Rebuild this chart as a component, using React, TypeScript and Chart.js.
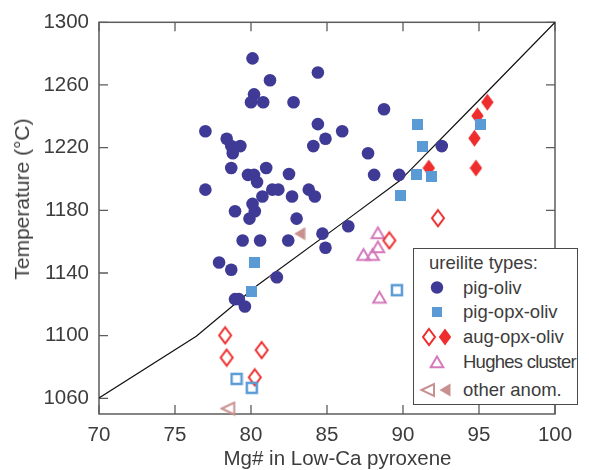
import React, { useEffect, useRef } from 'react';
import { Chart, registerables } from 'chart.js';

Chart.register(...registerables);

// ---- axis ticks ----
const xTicks = [70, 75, 80, 85, 90, 95, 100];
const yTicks = [1060, 1100, 1140, 1180, 1220, 1260, 1300];

// ---- series: pig-oliv (filled circles) ----
const pigOlivX = [80.1, 84.4, 81.25, 80.2, 80.0, 80.8, 82.8, 88.75, 84.4, 77.0, 86.0, 78.4, 84.9, 78.7, 79.3, 84.1, 92.55, 78.8, 87.7, 78.7, 81.0, 79.8, 80.2, 82.5, 88.1, 89.75, 80.4, 77.0, 81.4, 81.8, 83.8, 80.75, 82.7, 84.2, 80.1, 80.25, 78.95, 79.9, 83.0, 86.4, 84.7, 79.45, 80.6, 82.45, 84.9, 77.9, 78.7, 81.7, 78.95, 79.2, 79.6];
const pigOlivY = [1277, 1268, 1263, 1254, 1249, 1249, 1249, 1244.5, 1235, 1230.5, 1230.5, 1225.7, 1225.7, 1221, 1221, 1221, 1221, 1216.4, 1216.4, 1207, 1207, 1202.6, 1202.6, 1203.2, 1202.6, 1202.6, 1198, 1193.2, 1193.2, 1193.2, 1193.2, 1188.8, 1188.8, 1188.8, 1184.1, 1179.4, 1179.4, 1174.7, 1174.7, 1169.8, 1165.1, 1160.7, 1160.7, 1160.7, 1156.1, 1146.7, 1142.1, 1137.3, 1123.3, 1123.3, 1118.6];

// ---- pig-opx-oliv (squares) ----
const pigOpxFilledX = [90.95, 91.3, 90.9, 91.9, 89.85, 95.1, 80.2, 80.0];
const pigOpxFilledY = [1235, 1221, 1202.6, 1201.8, 1189.2, 1234.5, 1146.7, 1128];
const pigOpxOpenX = [79.05, 80.05, 89.6];
const pigOpxOpenY = [1072.4, 1066.7, 1129];

// ---- aug-opx-oliv (diamonds) ----
const augFilledX = [95.55, 94.9, 94.7, 94.8, 91.7];
const augFilledY = [1249, 1240.3, 1226, 1207, 1207];
const augOpenX = [92.3, 89.1, 78.3, 78.4, 80.7, 80.25];
const augOpenY = [1175, 1160.8, 1100.2, 1086, 1090.8, 1073.4];

// ---- Hughes cluster (open up-triangles) ----
const hughesX = [88.35, 88.35, 87.4, 88.0, 88.45];
const hughesY = [1165.6, 1156.6, 1151.7, 1151.7, 1124.4];

// ---- other anom. (left triangles) ----
const otherFilledX = [83.2, 81.5];
const otherFilledY = [1165.1, 1137.3];
const otherOpenX = [78.5];
const otherOpenY = [1053.5];

// ---- reference curve ----
const curveX = [70, 76.4, 80.4, 86.3, 89.8, 94.9, 100];
const curveY = [1060.2, 1099.6, 1132, 1173.9, 1199, 1249.3, 1300];

// ---- labels ----
const legendTitle = 'ureilite types:';
const legendLabels = ['pig-oliv', 'pig-opx-oliv', 'aug-opx-oliv', 'Hughes cluster', 'other anom.'];
const xTitle = 'Mg# in Low-Ca pyroxene';
const yTitle = 'Temperature (°C)';

const C_PIG = '#3e3a96';
const C_OPX = '#5b9bd5';
const C_AUG = '#ee2e2e';
const C_HUG = '#d47abb';
const C_OTH = '#c99090';
const TXT = '#3c3c3c';
const FONT = 'Liberation Sans, Arial, sans-serif';

const zip = (xs: number[], ys: number[]) => xs.map((x, i) => ({ x, y: ys[i] }));

function marker(w: number, h: number, draw: (ctx: CanvasRenderingContext2D, cx: number, cy: number) => void) {
  const c = document.createElement('canvas');
  c.width = Math.ceil(w);
  c.height = Math.ceil(h);
  const ctx = c.getContext('2d')!;
  draw(ctx, c.width / 2, c.height / 2);
  return c;
}

const framePlugin = {
  id: 'frame',
  beforeDatasetsDraw(chart: any) {
    const { ctx, chartArea: a, scales } = chart;
    ctx.save();
    ctx.strokeStyle = '#5c5c5c';
    ctx.lineWidth = 1.5;
    ctx.strokeRect(a.left, a.top, a.right - a.left, a.bottom - a.top);
    ctx.lineWidth = 1.3;
    const L = 9;
    ctx.beginPath();
    xTicks.forEach((v) => {
      const px = scales.x.getPixelForValue(v);
      ctx.moveTo(px, a.bottom);
      ctx.lineTo(px, a.bottom - L);
      ctx.moveTo(px, a.top);
      ctx.lineTo(px, a.top + L);
    });
    yTicks.forEach((v) => {
      const py = scales.y.getPixelForValue(v);
      ctx.moveTo(a.left, py);
      ctx.lineTo(a.left + L, py);
      ctx.moveTo(a.right, py);
      ctx.lineTo(a.right - L, py);
    });
    ctx.stroke();
    ctx.restore();
  },
};

export default function App() {
  const ref = useRef<HTMLCanvasElement>(null);

  useEffect(() => {
    const sqFilled = marker(11, 11, (c, x, y) => {
      c.fillStyle = C_OPX;
      c.fillRect(x - 5.5, y - 5.5, 11, 11);
    });
    const sqOpen = marker(14, 14, (c, x, y) => {
      c.strokeStyle = C_OPX;
      c.lineWidth = 2.5;
      c.strokeRect(x - 5, y - 5, 10, 10);
    });
    const diaFilled = marker(13, 18, (c, x, y) => {
      c.fillStyle = C_AUG;
      c.beginPath();
      c.moveTo(x, y - 8.5);
      c.lineTo(x + 6.2, y);
      c.lineTo(x, y + 8.5);
      c.lineTo(x - 6.2, y);
      c.closePath();
      c.fill();
    });
    const diaOpen = marker(16, 20, (c, x, y) => {
      c.strokeStyle = C_AUG;
      c.lineWidth = 2;
      c.beginPath();
      c.moveTo(x, y - 8);
      c.lineTo(x + 6, y);
      c.lineTo(x, y + 8);
      c.lineTo(x - 6, y);
      c.closePath();
      c.stroke();
    });
    const triUpOpen = marker(17, 16, (c, x, y) => {
      c.strokeStyle = C_HUG;
      c.lineWidth = 2;
      c.lineJoin = 'miter';
      c.beginPath();
      c.moveTo(x, y - 5.5);
      c.lineTo(x + 6.3, y + 5.2);
      c.lineTo(x - 6.3, y + 5.2);
      c.closePath();
      c.stroke();
    });
    const triLeftFilled = marker(12, 14, (c, x, y) => {
      c.fillStyle = C_OTH;
      c.beginPath();
      c.moveTo(x - 5.5, y);
      c.lineTo(x + 5.5, y - 6.5);
      c.lineTo(x + 5.5, y + 6.5);
      c.closePath();
      c.fill();
    });
    const triLeftOpen = marker(17, 16, (c, x, y) => {
      c.strokeStyle = C_OTH;
      c.lineWidth = 2;
      c.beginPath();
      c.moveTo(x - 6.5, y);
      c.lineTo(x + 6, y - 6);
      c.lineTo(x + 6, y + 6);
      c.closePath();
      c.stroke();
    });

    const pt = (style: any) => ({
      type: 'scatter' as const,
      pointStyle: style,
      pointRadius: 7,
      pointHoverRadius: 7,
      clip: false as any,
    });

    const tickFont = { family: FONT, size: 20.5 };

    const chart = new Chart(ref.current!, {
      type: 'scatter',
      data: {
        datasets: [
          {
            label: 'pig-oliv',
            data: zip(pigOlivX, pigOlivY),
            pointStyle: 'circle',
            pointRadius: 6.3,
            pointHoverRadius: 6.3,
            backgroundColor: C_PIG,
            borderWidth: 0,
            clip: false as any,
          },
          { label: 'pig-opx-oliv', data: zip(pigOpxFilledX, pigOpxFilledY), ...pt(sqFilled) },
          { label: 'pig-opx-oliv (open)', data: zip(pigOpxOpenX, pigOpxOpenY), ...pt(sqOpen) },
          { label: 'aug-opx-oliv', data: zip(augFilledX, augFilledY), ...pt(diaFilled) },
          { label: 'aug-opx-oliv (open)', data: zip(augOpenX, augOpenY), ...pt(diaOpen) },
          { label: 'Hughes cluster', data: zip(hughesX, hughesY), ...pt(triUpOpen) },
          { label: 'other anom.', data: zip(otherFilledX, otherFilledY), ...pt(triLeftFilled) },
          { label: 'other anom. (open)', data: zip(otherOpenX, otherOpenY), ...pt(triLeftOpen) },
          {
            label: 'curve',
            type: 'line' as any,
            data: zip(curveX, curveY),
            showLine: true,
            borderColor: '#111111',
            borderWidth: 1.2,
            pointRadius: 0,
            pointHoverRadius: 0,
            tension: 0,
            fill: false,
          } as any,
        ],
      },
      options: {
        animation: false,
        responsive: false,
        maintainAspectRatio: false,
        events: [],
        layout: { padding: { top: 16, right: 34, left: 0, bottom: 0 } },
        plugins: {
          legend: { display: false },
          tooltip: { enabled: false },
        },
        scales: {
          x: {
            type: 'linear',
            position: 'bottom',
            min: 70,
            max: 100,
            afterBuildTicks: (s: any) => {
              s.ticks = xTicks.map((v) => ({ value: v }));
            },
            afterFit: (s: any) => {
              s.height = 56;
            },
            ticks: {
              font: tickFont,
              color: TXT,
              padding: 9,
              maxRotation: 0,
              autoSkip: false,
              callback: (v: any) => String(v),
            },
            grid: { display: false, drawTicks: false },
            border: { display: false },
            title: { display: false, text: xTitle },
          },
          y: {
            type: 'linear',
            position: 'left',
            min: 1050,
            max: 1300,
            afterBuildTicks: (s: any) => {
              s.ticks = yTicks.map((v) => ({ value: v }));
            },
            afterFit: (s: any) => {
              s.width = 99;
            },
            ticks: {
              font: tickFont,
              color: TXT,
              padding: 10,
              autoSkip: false,
              callback: (v: any) => String(v),
            },
            grid: { display: false, drawTicks: false },
            border: { display: false },
            title: { display: false, text: yTitle },
          },
        },
      },
      plugins: [framePlugin],
    } as any);
    return () => chart.destroy();
  }, []);

  const textStyle: React.CSSProperties = {
    position: 'absolute',
    fontFamily: FONT,
    fontSize: 18.5,
    color: TXT,
    lineHeight: '24px',
    height: 24,
    whiteSpace: 'nowrap',
  };
  const rowsY = [287.5, 312, 337, 362, 390];

  return (
    <div style={{ position: 'fixed', left: 0, top: 0, width: 589, height: 470, background: '#fff', overflow: 'hidden' }}>
      <canvas ref={ref} width={589} height={470} style={{ display: 'block', width: 589, height: 470 }} />
      {/* axis titles */}
      <div
        style={{
          position: 'absolute',
          left: 337.5,
          top: 458,
          transform: 'translate(-50%, -50%)',
          fontFamily: FONT,
          fontSize: 20.5,
          color: TXT,
          whiteSpace: 'nowrap',
          lineHeight: '24px',
        }}
      >
        {xTitle}
      </div>
      <div
        style={{
          position: 'absolute',
          left: 22,
          top: 199,
          transform: 'translate(-50%, -50%) rotate(-90deg)',
          fontFamily: FONT,
          fontSize: 21,
          color: TXT,
          whiteSpace: 'nowrap',
          lineHeight: '24px',
        }}
      >
        {yTitle}
      </div>
      {/* legend */}
      <div
        style={{
          position: 'absolute',
          left: 412.5,
          top: 247.5,
          width: 165,
          height: 157,
          border: '1.5px solid #4a4a4a',
          background: '#fff',
          boxSizing: 'border-box',
        }}
      />
      <div style={{ ...textStyle, left: 429, top: 263 - 12 }}>{legendTitle}</div>
      {legendLabels.map((t, i) => (
        <div
          key={t}
          style={{ ...textStyle, left: 463, top: rowsY[i] - 12, letterSpacing: i === 3 ? '-0.75px' : 'normal' }}
        >
          {t}
        </div>
      ))}
      <svg width={589} height={470} style={{ position: 'absolute', left: 0, top: 0, pointerEvents: 'none' }}>
        <circle cx={437} cy={rowsY[0]} r={6.2} fill={C_PIG} />
        <rect x={432} y={rowsY[1] - 5} width={10} height={10} fill={C_OPX} />
        <path
          d={`M429 ${rowsY[2] - 8} L435 ${rowsY[2]} L429 ${rowsY[2] + 8} L423 ${rowsY[2]} Z`}
          fill="none"
          stroke={C_AUG}
          strokeWidth={2}
        />
        <path
          d={`M445 ${rowsY[2] - 8.5} L451.2 ${rowsY[2]} L445 ${rowsY[2] + 8.5} L438.8 ${rowsY[2]} Z`}
          fill={C_AUG}
        />
        <path
          d={`M437 ${rowsY[3] - 5.5} L443.3 ${rowsY[3] + 5.2} L430.7 ${rowsY[3] + 5.2} Z`}
          fill="none"
          stroke={C_HUG}
          strokeWidth={2}
        />
        <path
          d={`M421.5 ${rowsY[4]} L434 ${rowsY[4] - 6} L434 ${rowsY[4] + 6} Z`}
          fill="none"
          stroke={C_OTH}
          strokeWidth={2}
        />
        <path
          d={`M439.5 ${rowsY[4]} L450.5 ${rowsY[4] - 6.5} L450.5 ${rowsY[4] + 6.5} Z`}
          fill={C_OTH}
        />
      </svg>
    </div>
  );
}
